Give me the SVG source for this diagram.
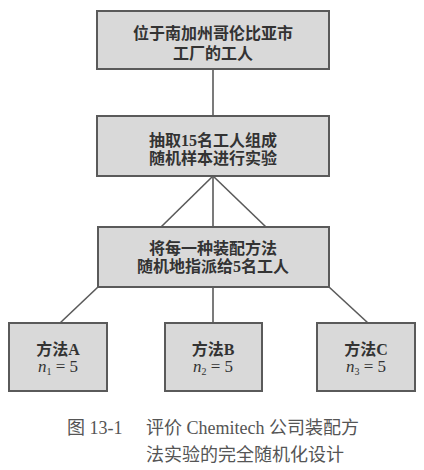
<svg xmlns="http://www.w3.org/2000/svg" width="424" height="470" viewBox="0 0 424 470">
<style>
.box{fill:#d9d9d9;stroke:#5a5a5a;stroke-width:2}
.t{font-family:"Liberation Serif","Noto Sans CJK SC",serif;font-size:16px;font-weight:bold;fill:#333;text-anchor:middle}
.n{font-family:"Liberation Serif",serif;font-size:17px;fill:#333;text-anchor:middle}
.cap{font-family:"Liberation Serif","Noto Sans CJK SC",serif;font-size:18px;fill:#555}
.c{stroke:#5a5a5a;stroke-width:1.6;fill:none}
</style>
<rect width="424" height="470" fill="#ffffff"/>
<g id="connectors">
<line class="c" x1="213" y1="69" x2="213" y2="116"/>
<line class="c" x1="213" y1="176" x2="161" y2="227"/>
<line class="c" x1="213" y1="176" x2="213" y2="227"/>
<line class="c" x1="213" y1="176" x2="266" y2="227"/>
<line class="c" x1="98" y1="287" x2="60" y2="323"/>
<line class="c" x1="213" y1="287" x2="213" y2="323"/>
<line class="c" x1="329" y1="287" x2="368" y2="323"/>
</g>
<g id="n1">
<rect class="box" x="97" y="11" width="232" height="58"/>
<text class="t" x="213" y="39">位于南加州哥伦比亚市</text>
<text class="t" x="213" y="59">工厂的工人</text>
</g>
<g id="n2">
<rect class="box" x="97" y="116" width="232" height="60"/>
<text class="t" x="213" y="146">抽取15名工人组成</text>
<text class="t" x="213" y="164">随机样本进行实验</text>
</g>
<g id="n3">
<rect class="box" x="98" y="227" width="231" height="60"/>
<text class="t" x="213" y="254">将每一种装配方法</text>
<text class="t" x="213" y="272">随机地指派给5名工人</text>
</g>
<g id="nA">
<rect class="box" x="9" y="323" width="98" height="68"/>
<text class="t" x="58" y="355">方法A</text>
<text class="n" x="58" y="372"><tspan font-style="italic">n</tspan><tspan font-size="10" dy="3">1</tspan><tspan dy="-3"> = 5</tspan></text>
</g>
<g id="nB">
<rect class="box" x="165" y="323" width="97" height="68"/>
<text class="t" x="213" y="355">方法B</text>
<text class="n" x="213" y="372"><tspan font-style="italic">n</tspan><tspan font-size="10" dy="3">2</tspan><tspan dy="-3"> = 5</tspan></text>
</g>
<g id="nC">
<rect class="box" x="317" y="323" width="98" height="68"/>
<text class="t" x="366" y="355">方法C</text>
<text class="n" x="366" y="372"><tspan font-style="italic">n</tspan><tspan font-size="10" dy="3">3</tspan><tspan dy="-3"> = 5</tspan></text>
</g>
<g id="caption">
<text class="cap" x="67" y="434">图 13-1</text>
<text class="cap" x="146" y="434">评价 Chemitech 公司装配方</text>
<text class="cap" x="146" y="461">法实验的完全随机化设计</text>
</g>
</svg>
